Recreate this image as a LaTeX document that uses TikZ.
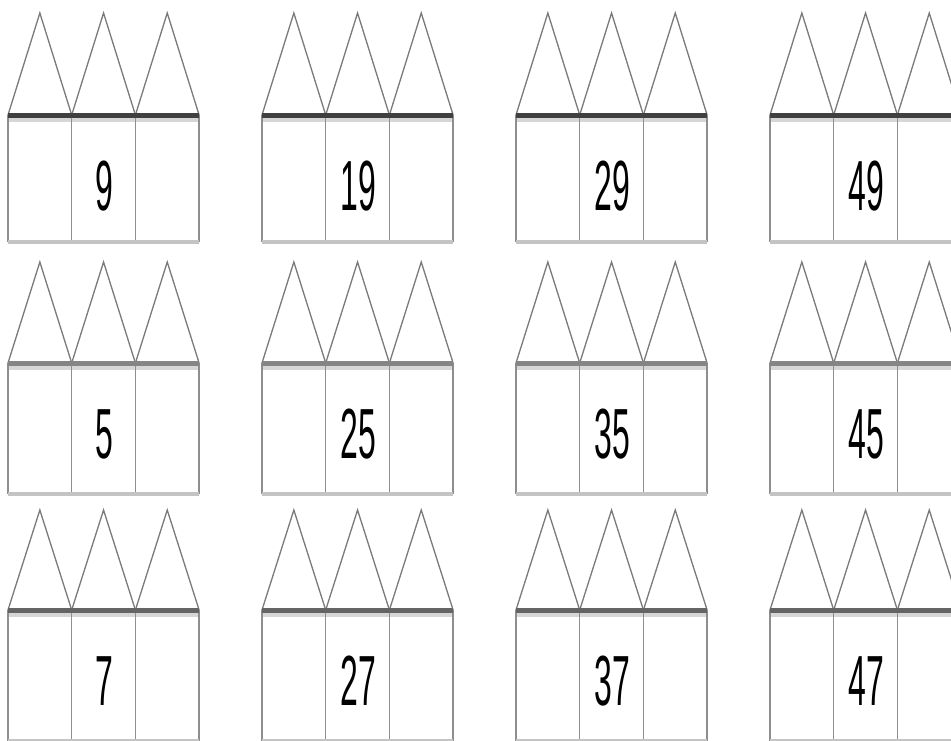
\documentclass[tikz,border=0pt]{standalone}
\usepackage{fontspec}
\setmainfont{Liberation Sans}
\definecolor{roofc}{HTML}{7A7A7A}
\definecolor{wallc}{HTML}{8E8E8E}
\definecolor{shadec}{HTML}{D6D6D6}
\definecolor{basec}{HTML}{C4C4C4}
\definecolor{barA}{HTML}{404040}
\definecolor{barB}{HTML}{858585}
\definecolor{barC}{HTML}{646464}
\tikzset{
  roof/.style={draw=roofc, line width=1.3pt},
  wall/.style={draw=wallc, line width=1.4pt},
  barline/.style={line width=5pt},
  shade/.style={draw=shadec, line width=3.5pt},
  baseline/.style={draw=basec, line width=4.5pt},
  numtext/.style={inner sep=0pt, xscale=0.45, font=\fontsize{71}{71}\selectfont}
}
\newcommand{\drawhouse}[7]{%
  % #1 left x, #2 apex y, #3 bar y, #4 bottom y, #5 bar colour, #6 number, #7 name
  \pgfmathsetmacro{\cw}{63.7}
  \foreach \k in {0,1,2}{
    \draw[roof] ({#1+\k*\cw},#3) -- ({#1+(\k+0.5)*\cw},#2) -- ({#1+(\k+1)*\cw},#3);
  }
  \draw[shade] (#1,{#3+5}) -- ({#1+3*\cw},{#3+5});
  \foreach \k in {0,1,2,3}{
    \draw[wall] ({#1+\k*\cw},#3) -- ({#1+\k*\cw},#4);
  }
  \draw[baseline] (#1,#4) -- ({#1+3*\cw},#4);
  \draw[barline, draw=#5] (#1,#3) -- ({#1+3*\cw},#3);
  \node[numtext] (#7) at ({#1+1.5*\cw+1},{#3+71}) {#6};
}
\begin{document}
\begin{tikzpicture}[x=1pt,y=-1pt]
\useasboundingbox (0,0) rectangle (951,740);
\clip (0,0) rectangle (951,740);
\fill[white] (0,0) rectangle (951,740);
% row 1
\drawhouse{8}{13}{115}{242}{barA}{9}{nA1}
\drawhouse{262}{13}{115}{242}{barA}{19}{nA2}
\drawhouse{516}{13}{115}{242}{barA}{29}{nA3}
\drawhouse{770}{13}{115}{242}{barA}{49}{nA4}
% row 2
\drawhouse{8}{262}{363}{494}{barB}{5}{nB1}
\drawhouse{262}{262}{363}{494}{barB}{25}{nB2}
\drawhouse{516}{262}{363}{494}{barB}{35}{nB3}
\drawhouse{770}{262}{363}{494}{barB}{45}{nB4}
% row 3
\drawhouse{8}{510}{610}{741}{barC}{7}{nC1}
\drawhouse{262}{510}{610}{741}{barC}{27}{nC2}
\drawhouse{516}{510}{610}{741}{barC}{37}{nC3}
\drawhouse{770}{510}{610}{741}{barC}{47}{nC4}
\end{tikzpicture}
\end{document}
